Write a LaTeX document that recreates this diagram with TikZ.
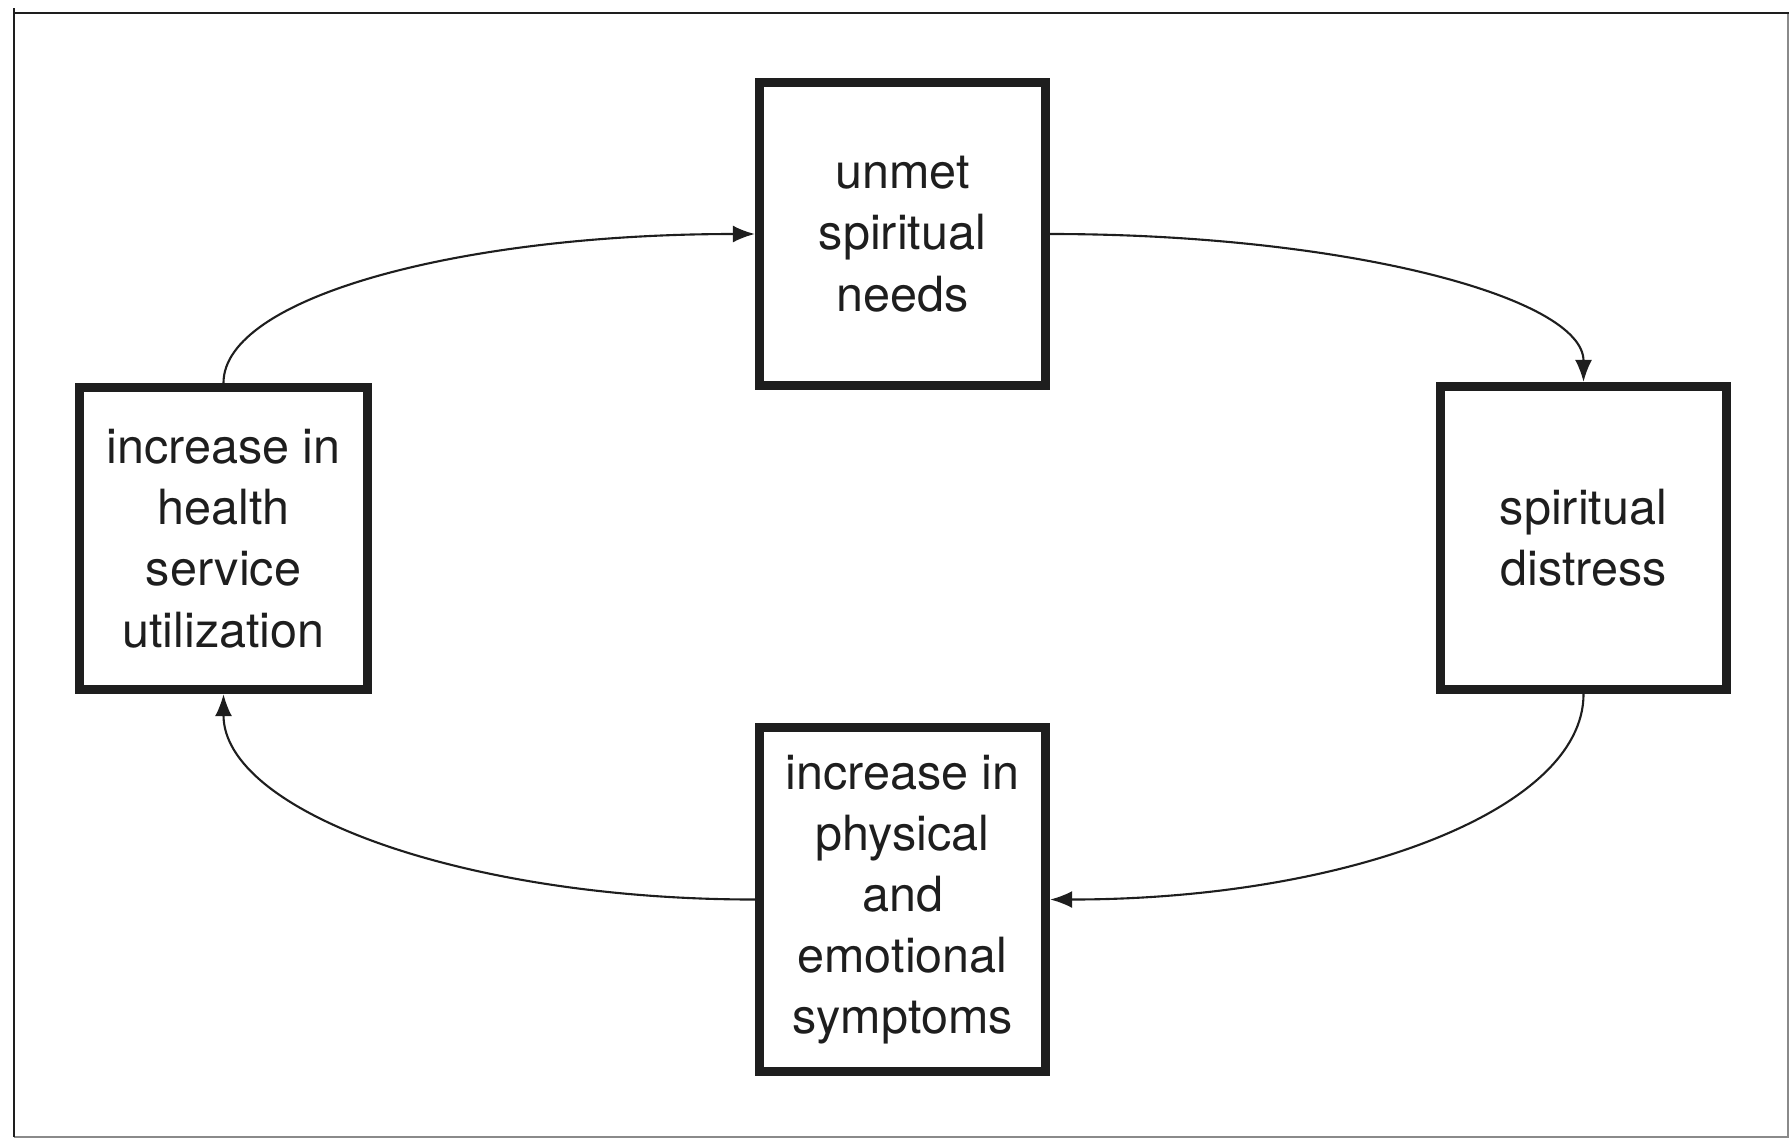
\documentclass[tikz,border=0pt]{standalone}
\usepackage{fontspec}
\setmainfont{TeX Gyre Heros}
\usetikzlibrary{arrows.meta}

\definecolor{inkgray}{HTML}{1E1E1E}
\definecolor{framegray}{HTML}{8A8A8A}

\begin{document}
\begin{tikzpicture}[
			x=0.01cm, y=-0.01cm,
			% Define styles for nodes
			cyclebox/.style={draw=inkgray, line width=2.6pt, rectangle, align=center,
					minimum width=2.86cm, minimum height=3.03cm, inner sep=0pt,
					text=inkgray, font=\fontsize{13.8}{17.4}\selectfont},
			cyclearrow/.style={draw=inkgray, line width=0.6pt, -{Latex[length=2.2mm, width=1.7mm]}}
		]

		% Frame
		\useasboundingbox (0,0) rectangle (1789,1139);
		\draw[framegray, line width=0.45pt] (14,1137) -- (1788,1137) -- (1788,13);
		\draw[inkgray, line width=0.85pt] (14,1137) -- (14,8);
		\draw[inkgray, line width=0.85pt] (14,13) -- (1789,13);

		% Boxes
		\node[cyclebox] (needs) at (902.5,234) {unmet\\spiritual\\needs};
		\node[cyclebox] (distress) at (1583.5,538) {spiritual\\distress};
		\node[cyclebox, minimum height=3.44cm] (symptoms) at (902.5,899.5)
			{increase in\\physical\\and\\emotional\\symptoms};
		\node[cyclebox, minimum width=2.88cm, minimum height=3.02cm] (utilization) at (223.5,538.5)
			{increase in\\health\\service\\utilization};

		% Arrows
		\draw[cyclearrow] (needs.east) .. controls +(297,0) and +(0,-84) .. (distress.north);
		\draw[cyclearrow] (distress.south) .. controls +(0,116) and +(297,0) .. (symptoms.east);
		\draw[cyclearrow] (symptoms.west) .. controls +(-296,0) and +(0,116) .. (utilization.south);
		\draw[cyclearrow] (utilization.north) .. controls +(0,-85) and +(-296,0) .. (needs.west);
	\end{tikzpicture}
\end{document}
